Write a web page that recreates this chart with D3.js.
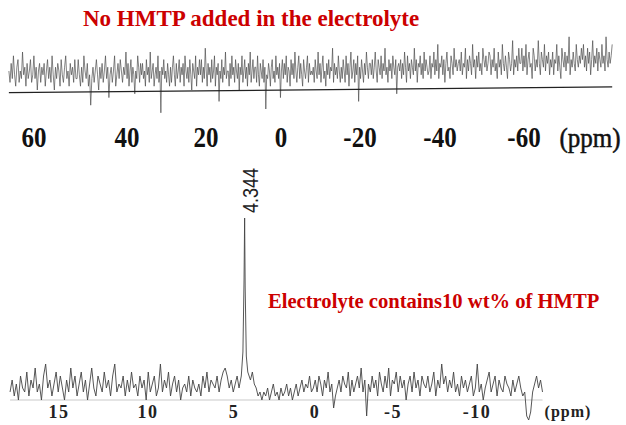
<!DOCTYPE html>
<html><head><meta charset="utf-8">
<script src="https://cdn.jsdelivr.net/npm/d3@7"></script>
<style>body{margin:0;background:#fff}svg{display:block}</style>
</head><body>
<script>
// ---------- data ----------
const topTitle = "No HMTP added in the electrolyte";
const bottomTitle = "Electrolyte contains10 wt% of HMTP";
const topTicks = [60, 40, 20, 0, -20, -40, -60];
const bottomTicks = [15, 10, 5, 0, -5, -10];
const unitLabel = "(ppm)";
const topPpmRange = [65.4, -81];
const topBaseline = [[65.4, -0.7], [-81, 0.8]];
const topValues = [
5,2,7,3,9,4,1,6,8,2,5,3,10,4,6,1,7,3,5,8,2,4,9,3,6,0,5,7,2,6,
4,7,1,5,8,3,6,2,9,4,0,6,3,7,5,1,8,4,2,6,9,3,5,1,7,4,6,2,8,3,
3,8,4,1,6,2,9,5,3,7,1,4,-4,3,6,2,5,8,4,0,6,3,7,2,5,9,3,6,-2,4,
6,2,5,9,1,4,7,3,8,5,2,6,4,10,3,7,1,5,8,2,6,4,-1,5,3,9,6,2,7,4,
7,3,5,1,8,4,6,2,10,3,5,7,1,4,6,3,9,2,5,-6,6,4,8,3,5,2,7,4,1,6,
2,6,9,4,1,7,3,5,8,2,6,4,7,1,9,5,3,6,2,8,4,0,7,5,3,9,1,6,4,8,
4,8,2,6,3,11,5,1,7,4,6,2,8,3,5,9,1,6,4,7,-3,5,3,8,2,6,4,10,3,5,
5,1,7,3,9,4,6,2,8,5,3,7,0,6,4,9,2,5,8,3,6,1,7,4,10,2,5,8,3,6,
6,2,9,4,1,7,5,3,8,2,6,-5,4,3,7,5,1,6,8,3,5,2,9,4,6,3,7,-2,5,8,
3,7,4,9,2,6,5,1,8,4,7,3,10,5,2,6,9,3,7,4,1,8,5,3,6,9,2,7,4,5,
4,6,2,8,5,3,10,4,7,2,6,9,3,5,1,7,4,8,3,6,5,11,2,7,4,6,3,9,5,2,
6,3,8,5,2,9,4,7,1,6,10,3,5,8,2,7,4,9,-3,6,3,8,5,2,7,4,10,6,3,7,
7,4,8,3,6,10,5,2,8,6,4,9,3,7,5,11,4,6,2,8,5,7,3,9,6,4,8,-1,6,7,
5,8,3,7,4,10,6,2,9,5,7,3,8,6,4,11,5,8,2,7,6,9,4,7,3,10,5,8,6,4,
5,9,3,7,6,10,4,8,5,12,3,7,6,9,4,8,2,7,10,5,6,3,9,7,4,11,6,8,5,7,
8,5,10,4,7,6,11,3,8,5,9,7,4,12,6,8,3,9,6,10,5,7,4,11,8,6,9,5,7,10,
9,4,8,6,11,5,7,3,10,6,8,4,12,7,5,9,6,3,10,8,5,7,13,4,8,6,9,5,11,7,
7,11,5,9,6,12,4,8,10,6,7,3,11,9,5,8,6,13,7,4,10,8,6,12,5,9,7,10,4,8,
6,10,4,8,7,12,5,9,6,3,11,8,6,10,5,9,7,14,4,8,6,10,7,5,12,8,6,9,7,11,
8,12,6,9,5,11,7,10,4,8,13,6,9,7,11,5,10,8,6,12,7,9,5,14,8,6,10,7,9,12
];
const bottomPpmRange = [17.75, -13.9];
const bottomValues = [
2,5,1,4,0,6,3,2,7,1,5,3,8,2,4,0,6,9,3,5,1,4,7,2,6,3,0,5,2,8,
3,6,1,4,7,2,5,0,4,8,3,1,6,4,2,7,3,5,1,6,9,2,4,3,6,1,5,2,7,3,
4,1,6,3,5,0,7,2,4,6,1,3,9,2,5,3,7,1,4,6,2,5,0,3,4,2,6,1,5,3,
2,4,1,6,3,7,2,5,4,3,6,2,5,7,8,6,3,5,2,4,6,3,5,7,4,6,8,5,7,4,
3,1,2,0,2,1,3,0,2,4,1,2,0,3,1,2,4,1,3,0,2,4,1,3,5,2,4,3,6,2,
3,5,2,6,4,1,5,3,7,2,4,-2,1,3,5,2,6,4,3,7,1,5,2,4,6,3,8,2,5,-4,
4,2,6,3,5,1,7,4,2,6,3,8,1,5,4,7,2,6,3,5,0,4,6,2,7,3,5,1,6,4,
3,6,2,4,7,1,5,3,9,4,6,2,5,3,7,2,4,1,6,3,5,2,4,6,1,3,9,2,4,0,
3,5,7,2,4,6,1,5,3,2,6,4,3,1,5,2,4,6,3,1,2,-4,-5,-3,2,4,6,3,5,2
];
const peakPpm = 4.344;
const peakLabel = "4.344";
const peakPoints = [[4.55,6],[4.45,12],[4.38,30],[4.344,45.5],[4.31,28],[4.24,11],[4.15,7]];

// ---------- layout ----------
const W = 626, H = 425;
const svg = d3.select("body").append("svg").attr("width", W).attr("height", H);
const red = "#cc0000";

// scales (tick positions on the original print are slightly non-uniform)
const xTop = d3.scaleLinear().domain(topTicks).range([34,127,206,281,360,440,524]);
const yTop = d3.scaleLinear().domain([0, 10]).range([90, 52]);
const xBot = d3.scaleLinear().domain(bottomTicks).range([59,148,234,315,393,477]);
const yBot = d3.scaleLinear().domain([0, 10]).range([400, 360]);

// titles
svg.append("text").attr("x", 83).attr("y", 26)
  .attr("font-family", "Liberation Serif, Times New Roman, serif").attr("font-weight", "bold")
  .attr("font-size", 23).attr("fill", red).text(topTitle);
svg.append("text").attr("x", 268).attr("y", 308)
  .attr("font-family", "Liberation Serif, Times New Roman, serif").attr("font-weight", "bold")
  .attr("font-size", 20.6).attr("fill", red).text(bottomTitle);

// ---------- top spectrum ----------
const topIdx = d3.scaleLinear().domain([0, topValues.length - 1]).range(topPpmRange);
const topData = topValues.map((v, i) => [topIdx(i), v]);
svg.append("path").datum(topData)
  .attr("d", d3.line().x(d => xTop(d[0])).y(d => yTop(d[1])))
  .attr("fill", "none").attr("stroke", "#4a4a4a").attr("stroke-width", 0.8)
  .attr("stroke-opacity", 0.85);
svg.append("path").datum(topBaseline)
  .attr("d", d3.line().x(d => xTop(d[0])).y(d => yTop(d[1])))
  .attr("fill", "none").attr("stroke", "#222").attr("stroke-width", 1.3);

const topLab = svg.append("g").attr("font-family", "Liberation Serif, Times New Roman, serif")
  .attr("font-weight", "bold").attr("font-size", 25).attr("fill", "#111");
topLab.selectAll("text.t").data(topTicks).join("text").attr("class", "t")
  .attr("text-anchor", "middle")
  .attr("transform", d => `translate(${xTop(d)},147) scale(1,1.15)`)
  .text(d => d);
topLab.append("text").attr("text-anchor", "middle").attr("font-weight", "normal")
  .attr("stroke", "#111").attr("stroke-width", 0.5)
  .attr("transform", "translate(590,147) scale(1,1.12)").text(unitLabel);

// ---------- bottom spectrum ----------
const botIdx = d3.scaleLinear().domain([0, bottomValues.length - 1]).range(bottomPpmRange);
const lo = d3.min(peakPoints, d => d[0]) - 0.05, hi = d3.max(peakPoints, d => d[0]) + 0.05;
const botData = bottomValues.map((v, i) => [botIdx(i), v])
  .filter(d => d[0] < lo || d[0] > hi)
  .concat(peakPoints)
  .sort((a, b) => b[0] - a[0]);
svg.append("line").attr("x1", xBot(bottomPpmRange[0])).attr("x2", xBot(bottomPpmRange[1]))
  .attr("y1", yBot(0)).attr("y2", yBot(0)).attr("stroke", "#bbb").attr("stroke-width", 0.8);
svg.append("path").datum(botData)
  .attr("d", d3.line().x(d => xBot(d[0])).y(d => yBot(d[1])))
  .attr("fill", "none").attr("stroke", "#444").attr("stroke-width", 0.9);

// peak label
svg.append("text")
  .attr("transform", `translate(${xBot(peakPpm) + 13},213) rotate(-90) scale(1,1.2)`)
  .attr("font-family", "Liberation Sans, Arial, sans-serif").attr("font-size", 18)
  .attr("fill", "#222").text(peakLabel);

const botLab = svg.append("g").attr("font-family", "Liberation Serif, Times New Roman, serif")
  .attr("font-weight", "bold").attr("font-size", 18).attr("fill", "#222")
  .attr("letter-spacing", 1.5);
botLab.selectAll("text.t").data(bottomTicks).join("text").attr("class", "t")
  .attr("text-anchor", "middle").attr("x", d => xBot(d)).attr("y", 418).text(d => d);
botLab.append("text").attr("text-anchor", "middle").attr("x", 568).attr("y", 417)
  .attr("font-size", 16).attr("letter-spacing", 1).text(unitLabel);
</script>
</body></html>
